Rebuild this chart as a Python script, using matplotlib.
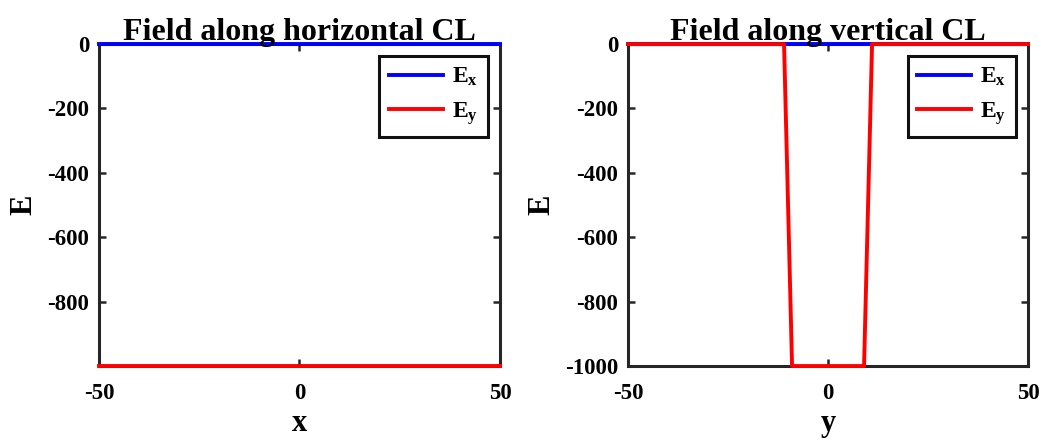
import matplotlib.pyplot as plt
from matplotlib.ticker import MultipleLocator

# field samples along the two centre lines
x_h = [-50, 50]
ex_h = [0, 0]
ey_h = [-999.9, -999.9]

y_v = [-50, -11, -9, 9, 11, 50]
ex_v = [0, 0, 0, 0, 0, 0]
ey_v = [0, 0, -1000, -1000, 0, 0]

titles = ['Field along horizontal CL', 'Field along vertical CL']
xlabels = ['x', 'y']

plt.rcParams['font.family'] = 'Liberation Serif'
plt.rcParams['font.weight'] = 'bold'
plt.rcParams['axes.unicode_minus'] = False
plt.rcParams['mathtext.fontset'] = 'custom'
plt.rcParams['mathtext.bf'] = 'Liberation Serif:bold'
plt.rcParams['mathtext.rm'] = 'Liberation Serif:bold'

fig = plt.figure(figsize=(10.45, 4.41), dpi=100)
axes = [fig.add_axes([0.0947, 0.170, 0.3838, 0.730]),
        fig.add_axes([0.601, 0.170, 0.3828, 0.730])]

data = [(x_h, ex_h, ey_h), (y_v, ex_v, ey_v)]

for ax, (xs, ex, ey), title, xl in zip(axes, data, titles, xlabels):
    ax.plot(xs, ex, color='#0000ff', lw=2.8, label=r'$\mathbf{E_x}$', clip_on=False, zorder=3)
    ax.plot(xs, ey, color='#ff0000', lw=2.8, label=r'$\mathbf{E_y}$', clip_on=False, zorder=4)
    ax.set_xlim(-50, 50)
    ax.set_ylim(min(ey), 0)
    ax.set_xticks([-50, 0, 50])
    ax.yaxis.set_major_locator(MultipleLocator(200))
    ax.tick_params(direction='in', top=True, right=True, length=5, width=1.8,
                   labelsize=16.5, color='#262626')
    ax.tick_params(axis='x', pad=12)
    ax.tick_params(axis='y', pad=7)
    for lab in ax.get_xticklabels() + ax.get_yticklabels():
        lab.set_fontweight('bold')
    for sp in ax.spines.values():
        sp.set_linewidth(2.2)
        sp.set_color('#262626')
    ax.set_title(title, fontsize=23, fontweight='bold', pad=3)
    ax.set_xlabel(xl, fontsize=22, fontweight='bold', labelpad=4)
    ax.set_ylabel('E', fontsize=22, fontweight='bold', labelpad=6)
    leg = ax.legend(loc='upper right', bbox_to_anchor=(0.97, 0.963), borderaxespad=0,
                    fontsize=17, fancybox=False, framealpha=1, handlelength=2.25,
                    labelspacing=0.5, borderpad=0.42, handletextpad=0.4)
    leg.get_frame().set_edgecolor('#111111')
    leg.get_frame().set_linewidth(2.2)

fig.savefig('out.png', dpi=100)
